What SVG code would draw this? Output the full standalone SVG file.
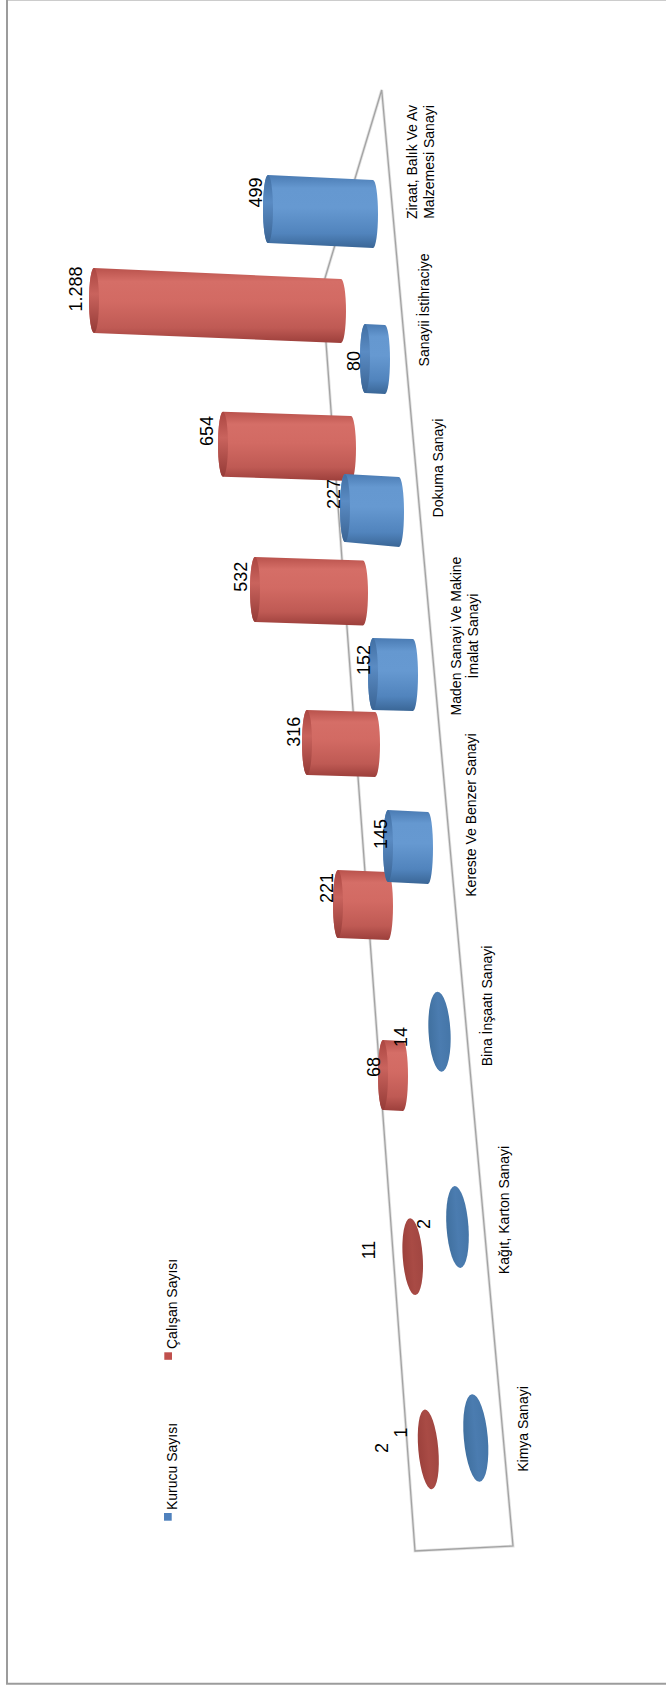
<svg xmlns="http://www.w3.org/2000/svg" width="666" height="1686" viewBox="0 0 666 1686">
<defs>
<style>
.cat{font-family:"Liberation Sans",Arial,sans-serif;font-size:14px;fill:#000}
.val{font-family:"Liberation Sans",Arial,sans-serif;font-size:18px;fill:#000}
.red{fill:url(#gR)}
.blue{fill:url(#gB)}
.redcap{fill:url(#gRc)}
.bluecap{fill:url(#gBc)}
.floor{fill:none;stroke:#a3a3a3;stroke-width:1.3;stroke-linejoin:miter}
.floorglow{fill:none;stroke:#e2e2e2;stroke-width:3}
</style>
<linearGradient id="gB" x1="0" y1="0" x2="0" y2="1">
<stop offset="0" stop-color="#4a7bb3"/>
<stop offset="0.18" stop-color="#6598d0"/>
<stop offset="0.45" stop-color="#6699d1"/>
<stop offset="0.8" stop-color="#5184bd"/>
<stop offset="1" stop-color="#3a6696"/>
</linearGradient>
<linearGradient id="gR" x1="0" y1="0" x2="0" y2="1">
<stop offset="0" stop-color="#b9524c"/>
<stop offset="0.18" stop-color="#d56e67"/>
<stop offset="0.45" stop-color="#d26a63"/>
<stop offset="0.8" stop-color="#bf5a54"/>
<stop offset="1" stop-color="#9c3f3b"/>
</linearGradient>
<linearGradient id="gBc" x1="0" y1="0" x2="0" y2="1">
<stop offset="0" stop-color="#416fa3"/>
<stop offset="0.4" stop-color="#5a8bc3"/>
<stop offset="1" stop-color="#3a6494"/>
</linearGradient>
<linearGradient id="gRc" x1="0" y1="0" x2="0" y2="1">
<stop offset="0" stop-color="#ab4641"/>
<stop offset="0.4" stop-color="#c9635d"/>
<stop offset="1" stop-color="#953b37"/>
</linearGradient>
<linearGradient id="gBd" x1="0" y1="0" x2="1" y2="0">
<stop offset="0" stop-color="#40709f"/>
<stop offset="0.5" stop-color="#4b7cb0"/>
<stop offset="1" stop-color="#4576a8"/>
</linearGradient>
<linearGradient id="gRd" x1="0" y1="0" x2="1" y2="0">
<stop offset="0" stop-color="#9c413c"/>
<stop offset="0.5" stop-color="#a94b45"/>
<stop offset="1" stop-color="#a14641"/>
</linearGradient>
</defs>
<rect x="0" y="0" width="666" height="1686" fill="#ffffff"/>
<g id="frame">
<line x1="7" y1="0.5" x2="666" y2="0.5" stroke="#cccccc" stroke-width="1"/>
<line x1="7" y1="0" x2="7" y2="1684" stroke="#9c9c9c" stroke-width="2"/>
<line x1="6" y1="1683.7" x2="666" y2="1683.7" stroke="#9c9c9c" stroke-width="2"/>
</g>
<g id="floor">
<polygon class="floorglow" points="381.7,90 322,288 415,1551 513,1546"/>
<polygon class="floor" points="381.7,90 322,288 415,1551 513,1546"/>
</g>
<g id="bars-calisan">
<g id="bar-r1288"><path class="red" d="M94,268 L341,279 A5,32 0 0 1 341,343 L94,333 A5,32.5 0 0 1 94,268 Z"/><ellipse class="redcap" cx="94" cy="300.5" rx="5" ry="32.5"/></g>
<g id="bar-r654"><path class="red" d="M223,411.7 L351,416 A5,32.5 0 0 1 351,481 L223,476.7 A5,32.5 0 0 1 223,411.7 Z"/><ellipse class="redcap" cx="223" cy="444.2" rx="5" ry="32.5"/></g>
<g id="bar-r532"><path class="red" d="M255,557 L363,560.5 A5,32.5 0 0 1 363,625.5 L255,622 A5,32.5 0 0 1 255,557 Z"/><ellipse class="redcap" cx="255" cy="589.5" rx="5" ry="32.5"/></g>
<g id="bar-r316"><path class="red" d="M307,710 L375,712 A5,32.5 0 0 1 375,777 L307,775 A5,32.5 0 0 1 307,710 Z"/><ellipse class="redcap" cx="307" cy="742.5" rx="5" ry="32.5"/></g>
<g id="bar-r221"><path class="red" d="M338,870 L388,872 A5,34 0 0 1 388,940 L338,938 A5,34 0 0 1 338,870 Z"/><ellipse class="redcap" cx="338" cy="904" rx="5" ry="34"/></g>
<g id="bar-r68"><path class="red" d="M383,1040 L403,1041 A5,35 0 0 1 403,1111 L383,1110 A5,35 0 0 1 383,1040 Z"/><ellipse class="redcap" cx="383" cy="1075" rx="5" ry="35"/></g>
<g id="bar-r11"><ellipse cx="412.7" cy="1256.7" rx="10" ry="38.5" fill="url(#gRd)" transform="rotate(-4 412.7 1256.7)"/></g>
<g id="bar-r2"><ellipse cx="428.3" cy="1449.3" rx="10" ry="40" fill="url(#gRd)" transform="rotate(-5 428.3 1449.3)"/></g>
</g>
<g id="bars-kurucu">
<g id="bar-b499"><path class="blue" d="M268,175 L373,180 A5,34 0 0 1 373,248 L268,243 A5,34 0 0 1 268,175 Z"/><ellipse class="bluecap" cx="268" cy="209" rx="5" ry="34"/></g>
<g id="bar-b80"><path class="blue" d="M365,324 L385,325 A5,34.5 0 0 1 385,394 L365,393 A5,34.5 0 0 1 365,324 Z"/><ellipse class="bluecap" cx="365" cy="358.5" rx="5" ry="34.5"/></g>
<g id="bar-b227"><path class="blue" d="M345,474 L399,477 A5,35 0 0 1 399,547 L345,542 A5,34 0 0 1 345,474 Z"/><ellipse class="bluecap" cx="345" cy="508" rx="5" ry="34"/></g>
<g id="bar-b152"><path class="blue" d="M373,638 L413,639 A5,36 0 0 1 413,711 L373,710 A5,36 0 0 1 373,638 Z"/><ellipse class="bluecap" cx="373" cy="674" rx="5" ry="36"/></g>
<g id="bar-b145"><path class="blue" d="M388,810 L428,812 A5,36 0 0 1 428,884 L388,882 A5,36 0 0 1 388,810 Z"/><ellipse class="bluecap" cx="388" cy="846" rx="5" ry="36"/></g>
<g id="bar-b14"><ellipse cx="439.5" cy="1031.7" rx="11" ry="40" fill="url(#gBd)" transform="rotate(-3 439.5 1031.7)"/></g>
<g id="bar-b2"><ellipse cx="457.5" cy="1227" rx="11" ry="41" fill="url(#gBd)" transform="rotate(-4 457.5 1227)"/></g>
<g id="bar-b1"><ellipse cx="475.8" cy="1438" rx="12" ry="44" fill="url(#gBd)" transform="rotate(-5 475.8 1438)"/></g>
</g>
<g id="value-labels" text-anchor="middle">
<text class="val" transform="translate(261.7,192.5) rotate(-90)">499</text>
<text class="val" transform="translate(81.7,289) rotate(-90)">1.288</text>
<text class="val" transform="translate(360,361) rotate(-90)">80</text>
<text class="val" transform="translate(213.3,431) rotate(-90)">654</text>
<text class="val" transform="translate(340,494) rotate(-90)">227</text>
<text class="val" transform="translate(246.7,576.7) rotate(-90)">532</text>
<text class="val" transform="translate(370,660) rotate(-90)">152</text>
<text class="val" transform="translate(300,731.7) rotate(-90)">316</text>
<text class="val" transform="translate(386.7,834) rotate(-90)">145</text>
<text class="val" transform="translate(333.3,888) rotate(-90)">221</text>
<text class="val" transform="translate(406.7,1037) rotate(-90)">14</text>
<text class="val" transform="translate(380,1067) rotate(-90)">68</text>
<text class="val" transform="translate(375,1250) rotate(-90)">11</text>
<text class="val" transform="translate(430,1224) rotate(-90)">2</text>
<text class="val" transform="translate(406.7,1432.5) rotate(-90)">1</text>
<text class="val" transform="translate(388.3,1448) rotate(-90)">2</text>
</g>
<g id="category-labels" text-anchor="middle">
<text class="cat" transform="translate(416.7,162) rotate(-90)">Ziraat, Balık Ve Av</text>
<text class="cat" transform="translate(434,162) rotate(-90)">Malzemesi Sanayi</text>
<text class="cat" transform="translate(429.3,310) rotate(-90)">Sanayii İstihraciye</text>
<text class="cat" transform="translate(443,468) rotate(-90)">Dokuma Sanayi</text>
<text class="cat" transform="translate(461,636) rotate(-90)">Maden Sanayi Ve Makine</text>
<text class="cat" transform="translate(477.7,636) rotate(-90)">İmalat Sanayi</text>
<text class="cat" transform="translate(476,815) rotate(-90)">Kereste Ve Benzer Sanayi</text>
<text class="cat" transform="translate(492.3,1006) rotate(-90)">Bina İnşaatı Sanayi</text>
<text class="cat" transform="translate(509.3,1210) rotate(-90)">Kağıt, Karton Sanayi</text>
<text class="cat" transform="translate(528,1429) rotate(-90)">Kimya Sanayi</text>
</g>
<g id="legend">
<g id="legend-kurucu"><rect x="164" y="1513" width="7.7" height="7.7" fill="#4f81bd"/><text class="cat" transform="translate(176.5,1510) rotate(-90)">Kurucu Sayısı</text></g>
<g id="legend-calisan"><rect x="164.3" y="1352.3" width="7.7" height="7.5" fill="#c0504d"/><text class="cat" transform="translate(176.5,1349) rotate(-90)">Çalışan Sayısı</text></g>
</g>
</svg>
